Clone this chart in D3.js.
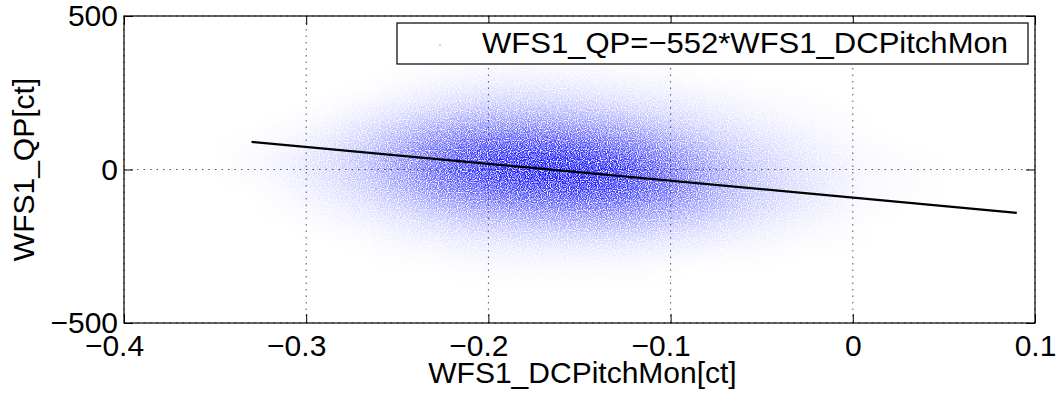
<!DOCTYPE html>
<html>
<head>
<meta charset="utf-8">
<script src="https://cdn.jsdelivr.net/npm/d3@7"></script>
<style>
body { margin: 0; background: #fff; }
text { font-family: "Liberation Sans", Arial, Helvetica, sans-serif; fill: #000; }
</style>
</head>
<body>
<div id="chart-area"></div>
<script>
var xTicks = [-0.4, -0.3, -0.2, -0.1, 0, 0.1]
var yTicks = [-500, 0, 500]

// point cloud, read off the picture as a density grid (0 = empty, 10 = darkest)
// columns: left edge of each 0.02 wide x bin, rows: top edge of each 50 high y bin
var cellX = [-0.34, -0.32, -0.30, -0.28, -0.26, -0.24, -0.22, -0.20, -0.18, -0.16, -0.14, -0.12, -0.10, -0.08, -0.06, -0.04, -0.02, 0.00, 0.02]
var cellY = [350, 300, 250, 200, 150, 100, 50, 0, -50, -100, -150, -200, -250, -300]
var density = [
  [0, 0, 0, 0, 0, 0.05, 0.1, 0.05, 0, 0, 0, 0, 0, 0],
  [0, 0, 0, 0, 0.1, 0.2, 0.3, 0.25, 0.15, 0.05, 0, 0, 0, 0],
  [0, 0, 0, 0.1, 0.3, 0.6, 0.8, 0.7, 0.45, 0.2, 0.1, 0, 0, 0],
  [0, 0, 0.1, 0.35, 0.8, 1.4, 1.7, 1.5, 1.0, 0.5, 0.2, 0.05, 0, 0],
  [0, 0.1, 0.3, 0.8, 1.8, 2.9, 3.4, 3.0, 2.1, 1.1, 0.5, 0.2, 0.05, 0],
  [0.05, 0.2, 0.6, 1.5, 3.0, 4.7, 5.6, 5.0, 3.6, 2.0, 0.9, 0.35, 0.1, 0],
  [0.1, 0.35, 0.9, 2.1, 4.0, 6.2, 7.4, 7.0, 5.0, 3.0, 1.4, 0.55, 0.2, 0.05],
  [0.15, 0.45, 1.1, 2.4, 4.6, 7.1, 8.6, 8.3, 6.2, 3.8, 1.9, 0.75, 0.25, 0.1],
  [0.15, 0.45, 1.1, 2.4, 4.6, 7.2, 9.0, 9.2, 7.0, 4.3, 2.2, 0.85, 0.3, 0.1],
  [0.1, 0.4, 1.0, 2.2, 4.2, 6.7, 8.7, 9.3, 7.4, 4.6, 2.4, 0.95, 0.3, 0.1],
  [0.1, 0.3, 0.8, 1.7, 3.4, 5.6, 7.6, 8.4, 7.0, 4.6, 2.4, 0.95, 0.3, 0.1],
  [0.05, 0.2, 0.55, 1.2, 2.5, 4.1, 5.7, 6.5, 5.6, 3.8, 2.0, 0.75, 0.25, 0.05],
  [0, 0.1, 0.35, 0.75, 1.5, 2.6, 3.7, 4.3, 3.9, 2.7, 1.4, 0.55, 0.15, 0],
  [0, 0.05, 0.2, 0.45, 0.9, 1.5, 2.2, 2.6, 2.4, 1.7, 0.9, 0.35, 0.1, 0],
  [0, 0, 0.1, 0.25, 0.5, 0.9, 1.3, 1.5, 1.4, 1.0, 0.5, 0.2, 0.05, 0],
  [0, 0, 0.05, 0.1, 0.25, 0.45, 0.65, 0.75, 0.75, 0.55, 0.25, 0.1, 0, 0],
  [0, 0, 0, 0.05, 0.1, 0.2, 0.3, 0.35, 0.35, 0.25, 0.1, 0.05, 0, 0],
  [0, 0, 0, 0, 0, 0.05, 0.1, 0.1, 0.1, 0.05, 0, 0, 0, 0],
  [0, 0, 0, 0, 0, 0, 0.05, 0.05, 0.05, 0, 0, 0, 0, 0]
]
var cellW = 0.02
var cellH = 50

// fitted line end points
var fitX = [-0.33, 0.09]
var fitY = [90, -141]

var xTitle = 'WFS1_DCPitchMon[ct]'
var yTitle = 'WFS1_QP[ct]'
var legendText = 'WFS1_QP=\u2212552*WFS1_DCPitchMon'

var margin = { top: 16, left: 124, bottom: 72, right: 23 }
var width = 1058 - margin.left - margin.right
var height = 395 - margin.top - margin.bottom

var svg = d3.select('#chart-area').append('svg')
    .attr('width', 1058)
    .attr('height', 395)
    .style('display', 'block')

svg.append('rect').attr('width', 1058).attr('height', 395).attr('fill', '#fff')

var g = svg.append('g').attr('transform', `translate(${ margin.left }, ${ margin.top })`)

var x = d3.scaleLinear().domain([-0.4, 0.1]).range([0, width])
var y = d3.scaleLinear().domain([-500, 500]).range([height, 0])

var defs = svg.append('defs')
defs.append('clipPath').attr('id', 'plot-clip')
  .append('rect').attr('width', width).attr('height', height)

// soften the grid, then break it into grain so it reads like a cloud of dots
var soft = defs.append('filter').attr('id', 'soft')
    .attr('filterUnits', 'userSpaceOnUse')
    .attr('x', 0).attr('y', 0).attr('width', width).attr('height', height)
soft.append('feGaussianBlur').attr('in', 'SourceGraphic').attr('stdDeviation', '13 7').attr('result', 'b')
soft.append('feTurbulence').attr('type', 'fractalNoise').attr('baseFrequency', 0.9).attr('numOctaves', 1).attr('seed', 4).attr('result', 'n')
soft.append('feColorMatrix').attr('in', 'n').attr('type', 'matrix')
    .attr('values', '0 0 0 0 0  0 0 0 0 0  0 0 0 0 0  3.2 0 0 0 -0.9').attr('result', 'na')
soft.append('feComposite').attr('in', 'b').attr('in2', 'na').attr('operator', 'in')

// dotted grid
var gridStyle = sel => sel.attr('stroke', '#555').attr('stroke-width', 1).attr('stroke-dasharray', '1.5,5')
g.append('g').selectAll('line').data(xTicks).enter().append('line')
    .attr('x1', d => x(d)).attr('x2', d => x(d))
    .attr('y1', 0).attr('y2', height)
    .call(gridStyle)
g.append('g').selectAll('line').data(yTicks).enter().append('line')
    .attr('y1', d => y(d)).attr('y2', d => y(d))
    .attr('x1', 0).attr('x2', width)
    .call(gridStyle)

// cloud
var cells = []
density.forEach((col, i) => col.forEach((v, j) => {
  if (v > 0) cells.push({ x0: cellX[i], y0: cellY[j], v: v })
}))

var opacity = d3.scalePow().exponent(0.75).domain([0, 10]).range([0, 1])

g.append('g').attr('clip-path', 'url(#plot-clip)')
  .append('g').attr('filter', 'url(#soft)')
  .selectAll('rect').data(cells).enter().append('rect')
    .attr('x', d => x(d.x0))
    .attr('y', d => y(d.y0))
    .attr('width', d => x(d.x0 + cellW) - x(d.x0))
    .attr('height', d => y(d.y0 - cellH) - y(d.y0))
    .attr('fill', '#0000ff')
    .attr('fill-opacity', d => opacity(d.v))

// fit line
var line = d3.line().x(d => x(d[0])).y(d => y(d[1]))
g.append('path')
    .datum(fitX.map((v, i) => [v, fitY[i]]))
    .attr('d', line)
    .attr('fill', 'none')
    .attr('stroke', '#000')
    .attr('stroke-width', 2.2)

// axes, ticks inside on all four sides
var fontSize = '30px'
var xAxisCall = d3.axisBottom(x).tickValues(xTicks).tickSize(-9).tickPadding(12).tickFormat(d3.format('.1f'))
var xAxisGroup = g.append('g').attr('transform', `translate(0, ${height})`).call(xAxisCall)
xAxisGroup.selectAll('text')
    .attr('font-size', fontSize)
    .attr('dx', d => d < 0 ? -10 : 0)
    .text(d => d === 0 ? '0' : d3.format('.1f')(d))

var yAxisCall = d3.axisLeft(y).tickValues(yTicks).tickSize(-9).tickPadding(6).tickFormat(d3.format('d'))
var yAxisGroup = g.append('g').call(yAxisCall)
yAxisGroup.selectAll('text').attr('font-size', fontSize)

g.append('g').call(d3.axisTop(x).tickValues(xTicks).tickSize(-9).tickFormat(''))
g.append('g').attr('transform', `translate(${width}, 0)`).call(d3.axisRight(y).tickValues(yTicks).tickSize(-9).tickFormat(''))

g.selectAll('.domain').remove()
g.selectAll('.tick line').attr('stroke', '#000').attr('stroke-width', 1)
g.selectAll('g').attr('font-family', null)

g.append('rect')
    .attr('width', width).attr('height', height)
    .attr('fill', 'none')
    .attr('stroke', '#000')
    .attr('stroke-width', 1.2)

// titles
g.append('text')
    .attr('x', width / 2 + 3)
    .attr('y', height + 60)
    .attr('text-anchor', 'middle')
    .attr('font-size', fontSize)
    .text(xTitle)

g.append('text')
    .attr('transform', `translate(${34 - margin.left}, ${height / 2}) rotate(-90)`)
    .attr('text-anchor', 'middle')
    .attr('font-size', fontSize)
    .text(yTitle)

// legend
var legend = svg.append('g')
legend.append('rect')
    .attr('x', 397).attr('y', 23)
    .attr('width', 631).attr('height', 41)
    .attr('fill', '#fff')
    .attr('stroke', '#000')
    .attr('stroke-width', 1.2)
legend.append('circle')
    .attr('cx', 440).attr('cy', 45).attr('r', 0.8)
    .attr('fill', '#0000ff').attr('fill-opacity', 0.4)
legend.append('text')
    .attr('x', 482).attr('y', 53)
    .attr('font-size', fontSize)
    .attr('textLength', 526)
    .attr('lengthAdjust', 'spacingAndGlyphs')
    .text(legendText)
</script>
</body>
</html>
